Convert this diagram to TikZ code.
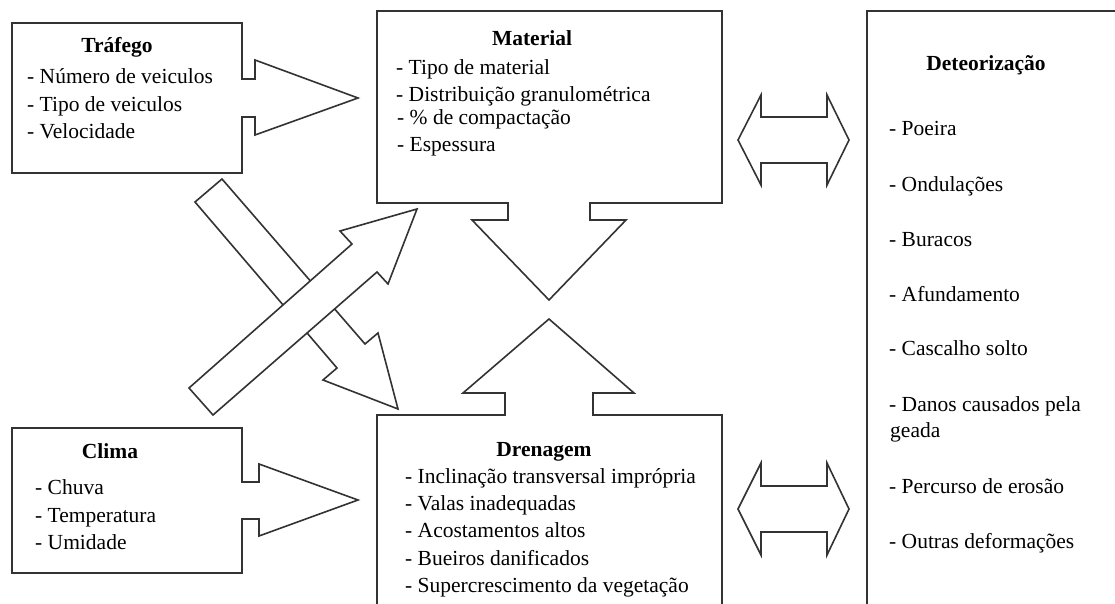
\documentclass[tikz,border=0pt]{standalone}
\usepackage{fontspec}
\setmainfont{Liberation Serif}
\begin{document}
\begin{tikzpicture}[x=1pt,y=-1pt,
  blk/.style={draw=black!80,line width=1.6pt,line join=miter,fill=white},
  ttl/.style={anchor=base,inner sep=0pt,font=\fontsize{21.5}{26}\selectfont\bfseries},
  itm/.style={anchor=base west,inner sep=0pt,font=\fontsize{21.5}{26}\selectfont}]
\useasboundingbox (0,0) rectangle (1115,604);
\clip (0,0) rectangle (1115,604);
% Deteorizacao box (extends beyond the frame)
\draw[blk] (867,11) rectangle (1130,620);
% Trafego box with arrow
\draw[blk] (12,23) -- (242,23) -- (242,79) -- (255,79) -- (255,60) -- (358,98)
  -- (255,135) -- (255,117) -- (242,117) -- (242,173) -- (12,173) -- cycle;
% Material box with down arrow
\draw[blk] (377,11) -- (722,11) -- (722,203) -- (590,203) -- (590,220) -- (626,220)
  -- (549,300) -- (472,220) -- (508,220) -- (508,203) -- (377,203) -- cycle;
% Drenagem box with up arrow
\draw[blk] (377,415) -- (505,415) -- (505,393) -- (463,393) -- (549,319) -- (634,393)
  -- (593,393) -- (593,415) -- (722,415) -- (722,620) -- (377,620) -- cycle;
% Clima box with arrow
\draw[blk] (12,428) -- (242,428) -- (242,482) -- (259,482) -- (259,464) -- (358,500)
  -- (259,536) -- (259,519) -- (242,519) -- (242,573) -- (12,573) -- cycle;
% double arrows
\draw[blk] (738,140) -- (761,95) -- (761,117) -- (827,117) -- (827,95) -- (849,140)
  -- (827,185) -- (827,163) -- (761,163) -- (761,185) -- cycle;
\draw[blk] (738,509) -- (761,463) -- (761,486) -- (827,486) -- (827,463) -- (849,509)
  -- (827,555) -- (827,532) -- (761,532) -- (761,555) -- cycle;
% diagonal arrows
\draw[blk] (222,179) -- (365,344) -- (378,333) -- (398,409) -- (323,380) -- (337,368)
  -- (195,202) -- cycle;
\draw[blk] (213,415) -- (377,272) -- (388,284) -- (417,209) -- (340,231) -- (352,244)
  -- (189,388) -- cycle;
% texts
\node[ttl] (t0) at (117,53) {Tráfego};
\node[itm] (t1) at (27,84) {- Número de veiculos};
\node[itm] (t2) at (27,112) {- Tipo de veiculos};
\node[itm] (t3) at (27,139) {- Velocidade};
\node[ttl] (m0) at (532,46) {Material};
\node[itm] (m1) at (396,75) {- Tipo de material};
\node[itm] (m2) at (396,102) {- Distribuição granulométrica};
\node[itm] (m3) at (397,125) {- \% de compactação};
\node[itm] (m4) at (397,152) {- Espessura};
\node[ttl] (d0) at (986,71) {Deteorização};
\node[itm] (d1) at (889,136) {- Poeira};
\node[itm] (d2) at (889,191) {- Ondulações};
\node[itm] (d3) at (889,246) {- Buracos};
\node[itm] (d4) at (889,301) {- Afundamento};
\node[itm] (d5) at (889,355) {- Cascalho solto};
\node[itm] (d6) at (889,411) {- Danos causados pela};
\node[itm] (d6b) at (890,437) {geada};
\node[itm] (d7) at (889,493) {- Percurso de erosão};
\node[itm] (d8) at (889,548) {- Outras deformações};
\node[ttl] (c0) at (110,458) {Clima};
\node[itm] (c1) at (35,494) {- Chuva};
\node[itm] (c2) at (35,522) {- Temperatura};
\node[itm] (c3) at (35,549) {- Umidade};
\node[ttl] (r0) at (544,456) {Drenagem};
\node[itm] (r1) at (405,483) {- Inclinação transversal imprópria};
\node[itm] (r2) at (405,510) {- Valas inadequadas};
\node[itm] (r3) at (405,537) {- Acostamentos altos};
\node[itm] (r4) at (405,565) {- Bueiros danificados};
\node[itm] (r5) at (405,592) {- Supercrescimento da vegetação};
\end{tikzpicture}
\end{document}
